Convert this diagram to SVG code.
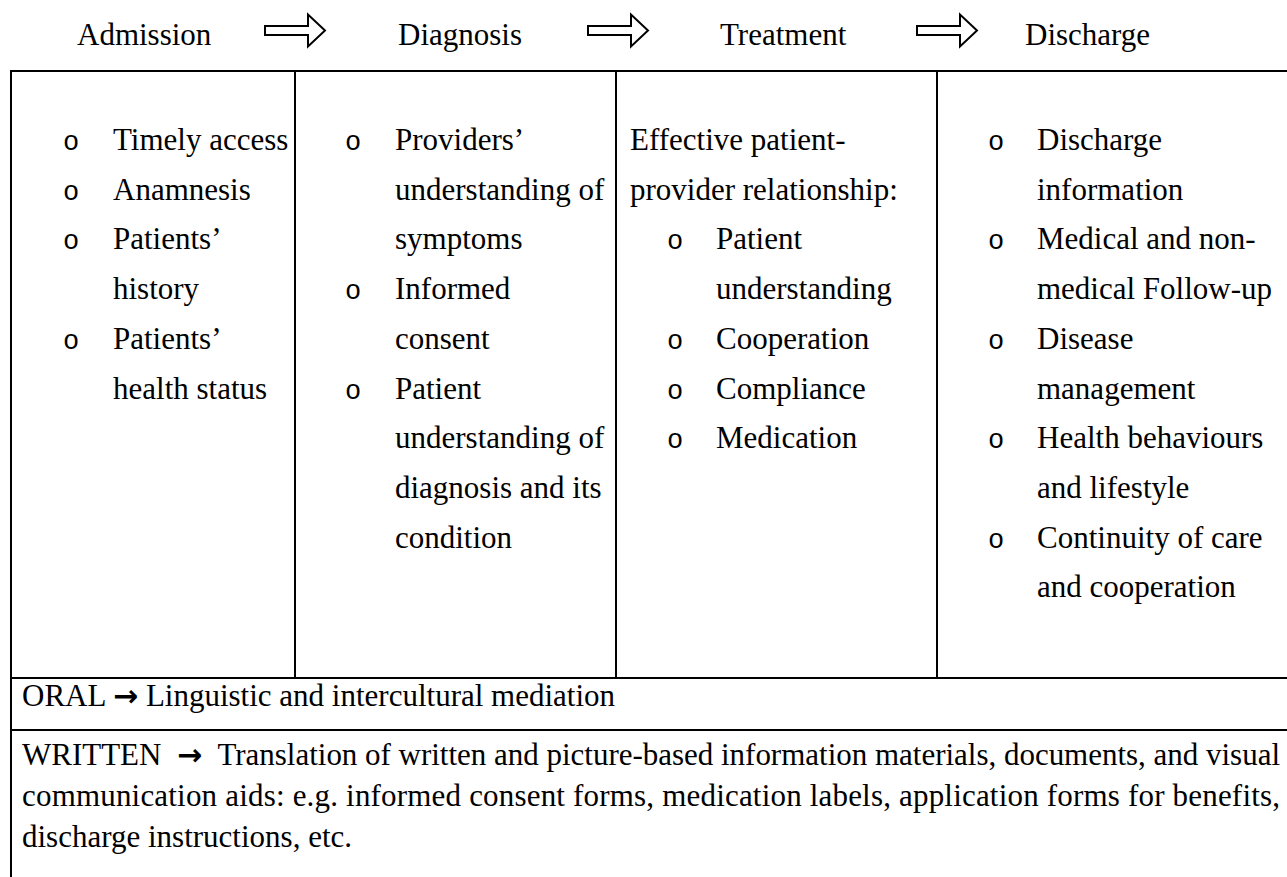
<svg xmlns="http://www.w3.org/2000/svg" width="1287" height="877" viewBox="0 0 1287 877">
<style>
text{font-family:"Liberation Serif","Times New Roman",serif;font-size:31px;fill:#000}
.b{font-family:"Liberation Mono","Courier New",monospace;font-size:27px}
.ar{font-family:"DejaVu Sans",sans-serif;font-weight:bold;font-size:30px}
.ln{stroke:#000;stroke-width:2;fill:none}
.arr{fill:#fff;stroke:#000;stroke-width:2;stroke-linejoin:miter}
</style>
<defs>
<polygon id="blk" class="arr" points="0,-4.5 43,-4.5 43,-16 60,0 43,16 43,4.5 0,4.5"/>
</defs>
<rect width="1287" height="877" fill="#fff"/>
<g id="header">
<text x="77" y="45">Admission</text>
<text x="398" y="45">Diagnosis</text>
<text x="720" y="45">Treatment</text>
<text x="1025" y="45">Discharge</text>
</g>
<g id="connectors">
<use href="#blk" x="265" y="30.5"/>
<use href="#blk" x="588" y="30.5"/>
<use href="#blk" x="917" y="30.5"/>
</g>
<g id="table">
<line class="ln" x1="11" y1="71" x2="1287" y2="71"/>
<line class="ln" x1="11" y1="70" x2="11" y2="877"/>
<line class="ln" x1="295" y1="71" x2="295" y2="678"/>
<line class="ln" x1="616" y1="71" x2="616" y2="678"/>
<line class="ln" x1="937" y1="71" x2="937" y2="678"/>
<line class="ln" x1="11" y1="678" x2="1287" y2="678"/>
<line class="ln" x1="11" y1="730" x2="1287" y2="730"/>
</g>
<g id="admission">
<text class="b" x="63" y="150">o</text><text x="113" y="150">Timely access</text>
<text class="b" x="63" y="199.7">o</text><text x="113" y="199.7">Anamnesis</text>
<text class="b" x="63" y="249.4">o</text><text x="113" y="249.4">Patients’</text>
<text x="113" y="299.1">history</text>
<text class="b" x="63" y="348.8">o</text><text x="113" y="348.8">Patients’</text>
<text x="113" y="398.5">health status</text>
</g>
<g id="diagnosis">
<text class="b" x="345" y="150">o</text><text x="395" y="150">Providers’</text>
<text x="395" y="199.7">understanding of</text>
<text x="395" y="249.4">symptoms</text>
<text class="b" x="345" y="299.1">o</text><text x="395" y="299.1">Informed</text>
<text x="395" y="348.8">consent</text>
<text class="b" x="345" y="398.5">o</text><text x="395" y="398.5">Patient</text>
<text x="395" y="448.2">understanding of</text>
<text x="395" y="497.9">diagnosis and its</text>
<text x="395" y="547.6">condition</text>
</g>
<g id="treatment">
<text x="630" y="150">Effective patient-</text>
<text x="630" y="199.7">provider relationship:</text>
<text class="b" x="667" y="249.4">o</text><text x="716" y="249.4">Patient</text>
<text x="716" y="299.1">understanding</text>
<text class="b" x="667" y="348.8">o</text><text x="716" y="348.8">Cooperation</text>
<text class="b" x="667" y="398.5">o</text><text x="716" y="398.5">Compliance</text>
<text class="b" x="667" y="448.2">o</text><text x="716" y="448.2">Medication</text>
</g>
<g id="discharge">
<text class="b" x="988" y="150">o</text><text x="1037" y="150">Discharge</text>
<text x="1037" y="199.7">information</text>
<text class="b" x="988" y="249.4">o</text><text x="1037" y="249.4">Medical and non-</text>
<text x="1037" y="299.1">medical Follow-up</text>
<text class="b" x="988" y="348.8">o</text><text x="1037" y="348.8">Disease</text>
<text x="1037" y="398.5">management</text>
<text class="b" x="988" y="448.2">o</text><text x="1037" y="448.2">Health behaviours</text>
<text x="1037" y="497.9">and lifestyle</text>
<text class="b" x="988" y="547.6">o</text><text x="1037" y="547.6">Continuity of care</text>
<text x="1037" y="597.3">and cooperation</text>
</g>
<g id="oral">
<text x="22" y="706">ORAL <tspan class="ar">→</tspan> Linguistic and intercultural mediation</text>
</g>
<g id="written">
<text x="22" y="765" textLength="1258" lengthAdjust="spacing">WRITTEN <tspan class="ar" dx="8">→</tspan><tspan dx="8"> Translation of written and picture-based information materials, documents, and visual</tspan></text>
<text x="22" y="806" textLength="1258" lengthAdjust="spacing">communication aids: e.g. informed consent forms, medication labels, application forms for benefits,</text>
<text x="22" y="847">discharge instructions, etc.</text>
</g>
</svg>
